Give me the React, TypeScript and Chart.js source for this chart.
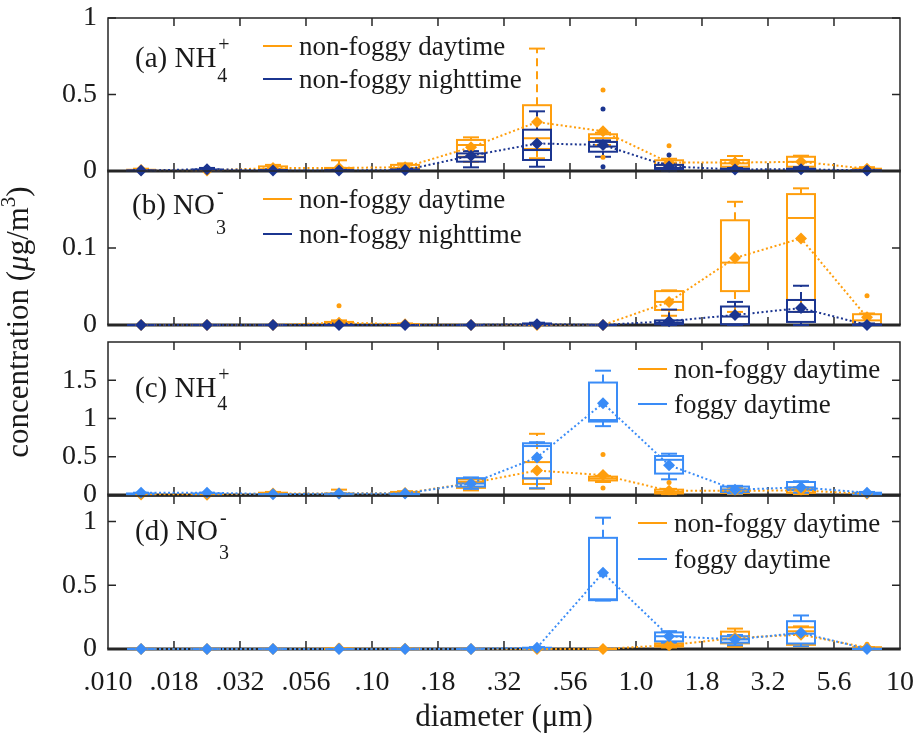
import React, { useEffect, useRef } from "react";
import { Chart, registerables } from "chart.js";

Chart.register(...registerables);

const W = 922;
const H = 737;
const FONT = '"Liberation Serif", "Times New Roman", serif';
const ORANGE = "#FF9E0D";
const NAVY = "#1B3590";
const BLUE = "#3A8CF7";
const INK = "#262626";

// particle size bins (geometric centres of the MOUDI stages, µm)
const DIAMETERS = [0.01334, 0.02371, 0.04217, 0.07499, 0.1334, 0.2371, 0.4217, 0.7499, 1.334, 2.371, 4.217, 7.499];
const X_TICKS = [0.01, 0.01778, 0.03162, 0.05623, 0.1, 0.1778, 0.3162, 0.5623, 1, 1.778, 3.162, 5.623, 10];
const X_TICK_LABELS = [".010", ".018", ".032", ".056", ".10", ".18", ".32", ".56", "1.0", "1.8", "3.2", "5.6", "10"];

const Y_TICKS_A = [0, 0.5, 1];
const Y_TICKS_B = [0, 0.1];
const Y_TICKS_C = [0, 0.5, 1, 1.5];
const Y_TICKS_D = [0, 0.5, 1];

// NH4+ non-foggy daytime
const NH4_ND_LO = [0, 0, 0, 0, 0, 0.06, 0.083, 0.17, 0.005, 0.01, 0.01, 0];
const NH4_ND_Q1 = [0.001, 0.001, 0.003, 0.003, 0.005, 0.093, 0.144, 0.19, 0.02, 0.028, 0.028, 0.003];
const NH4_ND_MED = [0.004, 0.002, 0.012, 0.01, 0.02, 0.17, 0.214, 0.215, 0.04, 0.05, 0.06, 0.008];
const NH4_ND_Q3 = [0.008, 0.004, 0.03, 0.02, 0.04, 0.203, 0.43, 0.24, 0.07, 0.072, 0.093, 0.015];
const NH4_ND_HI = [0.015, 0.006, 0.04, 0.07, 0.05, 0.22, 0.8, 0.25, 0.08, 0.098, 0.1, 0.025];
const NH4_ND_MEAN = [0.006, 0.003, 0.02, 0.02, 0.025, 0.155, 0.32, 0.26, 0.055, 0.055, 0.06, 0.015];
const NH4_ND_OUT = [[7, 0.53], [7, 0.09], [8, 0.165]];

// NH4+ non-foggy nighttime
const NH4_NN_LO = [0, 0, 0, 0, 0, 0.024, 0.028, 0.093, 0, 0, 0, 0];
const NH4_NN_Q1 = [0, 0.002, 0.001, 0.001, 0.001, 0.061, 0.072, 0.126, 0.01, 0.003, 0.003, 0];
const NH4_NN_MED = [0.002, 0.006, 0.003, 0.003, 0.004, 0.09, 0.137, 0.16, 0.02, 0.008, 0.008, 0.002];
const NH4_NN_Q3 = [0.004, 0.01, 0.006, 0.005, 0.01, 0.115, 0.27, 0.19, 0.04, 0.015, 0.015, 0.005];
const NH4_NN_HI = [0.006, 0.02, 0.01, 0.008, 0.015, 0.13, 0.39, 0.2, 0.05, 0.02, 0.025, 0.008];
const NH4_NN_MEAN = [0.003, 0.012, 0.004, 0.003, 0.006, 0.1, 0.18, 0.17, 0.03, 0.01, 0.012, 0.003];
const NH4_NN_OUT = [[7, 0.405], [7, 0.028], [8, 0.105]];

// NH4+ foggy daytime
const NH4_FD_LO = [0, 0, 0, 0, 0, 0.08, 0.088, 0.9, 0.205, 0.02, 0.03, 0];
const NH4_FD_Q1 = [0.005, 0.005, 0.002, 0.003, 0.003, 0.11, 0.218, 0.96, 0.28, 0.04, 0.065, 0.005];
const NH4_FD_MED = [0.01, 0.01, 0.005, 0.008, 0.008, 0.15, 0.64, 0.98, 0.46, 0.07, 0.1, 0.02];
const NH4_FD_Q3 = [0.02, 0.02, 0.01, 0.015, 0.015, 0.22, 0.676, 1.47, 0.51, 0.11, 0.17, 0.03];
const NH4_FD_HI = [0.03, 0.03, 0.015, 0.02, 0.025, 0.23, 0.69, 1.625, 0.54, 0.12, 0.18, 0.04];
const NH4_FD_MEAN = [0.03, 0.03, 0.01, 0.02, 0.02, 0.15, 0.49, 1.2, 0.39, 0.07, 0.1, 0.03];
const NH4_FD_OUT: number[][] = [];

// NO3- non-foggy daytime
const NO3_ND_LO = [0, 0, 0, 0, 0, 0, 0, 0, 0.012, 0.017, 0.017, 0];
const NO3_ND_Q1 = [0, 0, 0, 0, 0, 0, 0, 0, 0.0195, 0.044, 0.0325, 0.001];
const NO3_ND_MED = [0, 0, 0, 0.001, 0, 0, 0, 0, 0.03, 0.081, 0.139, 0.006];
const NO3_ND_Q3 = [0, 0, 0, 0.004, 0.001, 0, 0, 0, 0.044, 0.136, 0.17, 0.014];
const NO3_ND_HI = [0, 0, 0, 0.006, 0.002, 0, 0, 0, 0.045, 0.16, 0.1775, 0.015];
const NO3_ND_MEAN = [0, 0, 0, 0.003, 0.001, 0, 0, 0, 0.03, 0.087, 0.1125, 0.01];
const NO3_ND_OUT = [[3, 0.025], [11, 0.038]];

// NO3- non-foggy nighttime
const NO3_NN_LO = [0, 0, 0, 0, 0, 0, 0, 0, 0, 0, 0, 0];
const NO3_NN_Q1 = [0, 0, 0, 0, 0, 0, 0, 0, 0.001, 0.001, 0.004, 0];
const NO3_NN_MED = [0, 0, 0, 0, 0, 0, 0.001, 0, 0.003, 0.011, 0.017, 0];
const NO3_NN_Q3 = [0, 0, 0, 0.001, 0, 0, 0.002, 0, 0.006, 0.024, 0.0325, 0.001];
const NO3_NN_HI = [0, 0, 0, 0.002, 0, 0, 0.003, 0, 0.02, 0.03, 0.051, 0.002];
const NO3_NN_MEAN = [0, 0, 0, 0, 0, 0, 0.001, 0, 0.005, 0.013, 0.022, 0];
const NO3_NN_OUT: number[][] = [];

// NO3- foggy daytime
const NO3_FD_LO = [0, 0, 0, 0, 0, 0, 0, 0.38, 0.05, 0.03, 0.02, 0];
const NO3_FD_Q1 = [0, 0, 0, 0, 0, 0, 0, 0.383, 0.06, 0.05, 0.043, 0];
const NO3_FD_MED = [0, 0, 0, 0, 0, 0, 0.005, 0.39, 0.1, 0.075, 0.12, 0];
const NO3_FD_Q3 = [0, 0, 0, 0, 0, 0, 0.01, 0.872, 0.13, 0.1, 0.218, 0.002];
const NO3_FD_HI = [0, 0, 0, 0, 0, 0, 0.015, 1.03, 0.14, 0.11, 0.263, 0.004];
const NO3_FD_MEAN = [0, 0, 0, 0, 0, 0, 0.01, 0.598, 0.1, 0.075, 0.127, 0];
const NO3_FD_OUT: number[][] = [];

const LEGEND_DAY = "non-foggy daytime";
const LEGEND_NIGHT = "non-foggy nighttime";
const LEGEND_FOG = "foggy daytime";

const mk = (name: string, color: string, lo: number[], q1: number[], med: number[], q3: number[], hi: number[], mean: number[], out: number[][]) => ({ name, color, lo, q1, med, q3, hi, mean, out });

const PANELS = [
  {
    top: 18, bottom: 171, yMax: 1, yTicks: Y_TICKS_A,
    label: { main: "(a) NH", sub: "4", sup: "+", x: 135, y: 67, subDy: 15 },
    legend: { x: 263, ys: [46, 79] },
    series: [
      mk(LEGEND_DAY, ORANGE, NH4_ND_LO, NH4_ND_Q1, NH4_ND_MED, NH4_ND_Q3, NH4_ND_HI, NH4_ND_MEAN, NH4_ND_OUT),
      mk(LEGEND_NIGHT, NAVY, NH4_NN_LO, NH4_NN_Q1, NH4_NN_MED, NH4_NN_Q3, NH4_NN_HI, NH4_NN_MEAN, NH4_NN_OUT),
    ],
  },
  {
    top: 171, bottom: 325, yMax: 0.2, yTicks: Y_TICKS_B,
    label: { main: "(b) NO", sub: "3", sup: "-", x: 132, y: 214, subDy: 20 },
    legend: { x: 263, ys: [199, 234] },
    series: [
      mk(LEGEND_DAY, ORANGE, NO3_ND_LO, NO3_ND_Q1, NO3_ND_MED, NO3_ND_Q3, NO3_ND_HI, NO3_ND_MEAN, NO3_ND_OUT),
      mk(LEGEND_NIGHT, NAVY, NO3_NN_LO, NO3_NN_Q1, NO3_NN_MED, NO3_NN_Q3, NO3_NN_HI, NO3_NN_MEAN, NO3_NN_OUT),
    ],
  },
  {
    top: 342, bottom: 495, yMax: 2, yTicks: Y_TICKS_C,
    label: { main: "(c) NH", sub: "4", sup: "+", x: 135, y: 397, subDy: 13 },
    legend: { x: 638, ys: [369, 404] },
    series: [
      mk(LEGEND_DAY, ORANGE, NH4_ND_LO, NH4_ND_Q1, NH4_ND_MED, NH4_ND_Q3, NH4_ND_HI, NH4_ND_MEAN, NH4_ND_OUT),
      mk(LEGEND_FOG, BLUE, NH4_FD_LO, NH4_FD_Q1, NH4_FD_MED, NH4_FD_Q3, NH4_FD_HI, NH4_FD_MEAN, NH4_FD_OUT),
    ],
  },
  {
    top: 496, bottom: 649, yMax: 1.2, yTicks: Y_TICKS_D,
    label: { main: "(d) NO", sub: "3", sup: "-", x: 135, y: 540, subDy: 19 },
    legend: { x: 638, ys: [523, 559] },
    series: [
      mk(LEGEND_DAY, ORANGE, NO3_ND_LO, NO3_ND_Q1, NO3_ND_MED, NO3_ND_Q3, NO3_ND_HI, NO3_ND_MEAN, NO3_ND_OUT),
      mk(LEGEND_FOG, BLUE, NO3_FD_LO, NO3_FD_Q1, NO3_FD_MED, NO3_FD_Q3, NO3_FD_HI, NO3_FD_MEAN, NO3_FD_OUT),
    ],
  },
];

const BOX_W = 28;
const CAP = 8;
const TICK_LEN = 8;

function seg(ctx: any, x1: number, y1: number, x2: number, y2: number) {
  ctx.beginPath();
  ctx.moveTo(x1, y1);
  ctx.lineTo(x2, y2);
  ctx.stroke();
}

function drawBoxes(ctx: any, xs: any, ys: any, s: any) {
  ctx.save();
  ctx.strokeStyle = s.color;
  ctx.lineWidth = 2;
  for (let i = 0; i < DIAMETERS.length; i++) {
    const x = xs.getPixelForValue(DIAMETERS[i]);
    const yLo = ys.getPixelForValue(s.lo[i]);
    const yQ1 = ys.getPixelForValue(s.q1[i]);
    const yMed = ys.getPixelForValue(s.med[i]);
    const yQ3 = ys.getPixelForValue(s.q3[i]);
    const yHi = ys.getPixelForValue(s.hi[i]);
    ctx.setLineDash([8, 5]);
    if (yHi < yQ3) seg(ctx, x, yQ3, x, yHi);
    if (yLo > yQ1) seg(ctx, x, yQ1, x, yLo);
    ctx.setLineDash([]);
    seg(ctx, x - CAP, yHi, x + CAP, yHi);
    seg(ctx, x - CAP, yLo, x + CAP, yLo);
    ctx.strokeRect(x - BOX_W / 2, yQ3, BOX_W, yQ1 - yQ3);
    seg(ctx, x - BOX_W / 2, yMed, x + BOX_W / 2, yMed);
  }
  ctx.restore();
}

const decorPlugin = {
  id: "panelDecor",
  beforeDatasetsDraw(chart: any, _args: any, opts: any) {
    const p = opts.panel;
    if (!p) return;
    const ctx = chart.ctx;
    const { left, right, top, bottom } = chart.chartArea;
    const xs = chart.scales.x;
    const ys = chart.scales.y;
    ctx.save();
    ctx.strokeStyle = INK;
    ctx.lineWidth = 1.5;
    ctx.beginPath();
    ctx.moveTo(left, bottom);
    ctx.lineTo(left, top);
    ctx.lineTo(right, top);
    ctx.lineTo(right, bottom);
    ctx.stroke();
    X_TICKS.forEach((v) => {
      const x = xs.getPixelForValue(v);
      if (x <= left + 1 || x >= right - 1) return;
      seg(ctx, x, bottom, x, bottom - TICK_LEN);
      seg(ctx, x, top, x, top + TICK_LEN);
    });
    p.yTicks.forEach((v: number) => {
      const y = ys.getPixelForValue(v);
      seg(ctx, left, y, left + TICK_LEN, y);
      seg(ctx, right, y, right - TICK_LEN, y);
    });
    ctx.lineWidth = 3;
    seg(ctx, left - 0.75, bottom, right + 0.75, bottom);
    ctx.restore();
    p.series.forEach((s: any) => drawBoxes(ctx, xs, ys, s));
  },
  afterDraw(chart: any, _args: any, opts: any) {
    const p = opts.panel;
    if (!p) return;
    const ctx = chart.ctx;
    ctx.save();
    ctx.fillStyle = "#1a1a1a";
    ctx.textAlign = "left";
    ctx.textBaseline = "alphabetic";
    // panel label
    const L = p.label;
    ctx.font = `29px ${FONT}`;
    ctx.fillText(L.main, L.x, L.y);
    const lx = L.x + ctx.measureText(L.main).width + 1;
    ctx.font = `20px ${FONT}`;
    ctx.fillText(L.sub, lx, L.y + L.subDy);
    ctx.fillText(L.sup, lx + 1, L.y - 16);
    // legend
    p.series.forEach((s: any, k: number) => {
      const y = p.legend.ys[k];
      ctx.strokeStyle = s.color;
      ctx.lineWidth = 2;
      seg(ctx, p.legend.x, y, p.legend.x + 29, y);
      ctx.font = `27px ${FONT}`;
      ctx.fillText(s.name, p.legend.x + 36, y + 9);
    });
    // shared y-axis title
    if (opts.yTitle) {
      ctx.translate(19, 322);
      ctx.rotate(-Math.PI / 2);
      const parts = [
        { t: "concentration (", f: `31px ${FONT}`, dy: 0 },
        { t: "\u03bc", f: `italic 31px ${FONT}`, dy: 0 },
        { t: "g/m", f: `31px ${FONT}`, dy: 0 },
        { t: "3", f: `21px ${FONT}`, dy: -13 },
        { t: ")", f: `31px ${FONT}`, dy: 0 },
      ];
      let total = 0;
      parts.forEach((q) => { ctx.font = q.f; total += ctx.measureText(q.t).width; });
      let x = -total / 2;
      parts.forEach((q) => {
        ctx.font = q.f;
        ctx.fillText(q.t, x, 9 + q.dy);
        x += ctx.measureText(q.t).width;
      });
    }
    ctx.restore();
  },
};

function buildConfig(p: any, idx: number) {
  const isLast = idx === PANELS.length - 1;
  const datasets: any[] = [];
  p.series.forEach((s: any, k: number) => {
    const order = (p.series.length - 1 - k) * 2;
    datasets.push({
      label: s.name,
      data: DIAMETERS.map((d, i) => ({ x: d, y: s.mean[i] })),
      borderColor: s.color,
      backgroundColor: s.color,
      borderWidth: 2,
      borderDash: [2, 2.5],
      pointStyle: "rectRot",
      pointRadius: 6,
      pointBorderWidth: 0,
      pointBackgroundColor: s.color,
      tension: 0,
      clip: false,
      order,
    });
    datasets.push({
      label: s.name + " outliers",
      data: s.out.map((o: number[]) => ({ x: DIAMETERS[o[0]], y: o[1] })),
      showLine: false,
      pointStyle: "circle",
      pointRadius: 2.5,
      pointBorderWidth: 0,
      pointBackgroundColor: s.color,
      borderColor: s.color,
      clip: false,
      order: order + 1,
    });
  });
  return {
    type: "line",
    data: { datasets },
    plugins: [decorPlugin],
    options: {
      animation: false,
      responsive: false,
      events: [],
      layout: { padding: { top: p.top, bottom: isLast ? 0 : H - p.bottom, left: 0, right: W - 900 } },
      plugins: {
        legend: { display: false },
        tooltip: { enabled: false },
        panelDecor: { panel: p, yTitle: idx === 0 },
      },
      scales: {
        x: {
          type: "logarithmic",
          min: 0.01,
          max: 10,
          display: isLast,
          afterBuildTicks: (s: any) => { s.ticks = X_TICKS.map((v) => ({ value: v })); },
          afterFit: (s: any) => {
            if (!isLast) return;
            s.height = H - p.bottom;
            s.paddingLeft = 0;
            s.paddingRight = 0;
          },
          grid: { display: false, drawTicks: false },
          border: { display: false },
          ticks: {
            autoSkip: false,
            maxRotation: 0,
            minRotation: 0,
            padding: 17,
            color: "#1a1a1a",
            font: { family: FONT, size: 28 },
            callback: (_v: any, i: number) => X_TICK_LABELS[i],
          },
          title: {
            display: true,
            text: "diameter (\u03bcm)",
            color: "#1a1a1a",
            font: { family: FONT, size: 31 },
            padding: { top: 0, bottom: 1 },
          },
        },
        y: {
          type: "linear",
          min: 0,
          max: p.yMax,
          afterBuildTicks: (s: any) => { s.ticks = p.yTicks.map((v: number) => ({ value: v })); },
          afterFit: (s: any) => { s.width = 108; s.paddingTop = 0; s.paddingBottom = 0; },
          grid: { display: false, drawTicks: false },
          border: { display: false },
          ticks: {
            padding: 11,
            color: "#1a1a1a",
            font: { family: FONT, size: 28 },
            callback: (v: any) => String(v),
          },
        },
      },
    },
  };
}

function Panel({ p, idx }: { p: any; idx: number }) {
  const ref = useRef<HTMLCanvasElement | null>(null);
  useEffect(() => {
    if (!ref.current) return;
    const chart = new Chart(ref.current, buildConfig(p, idx) as any);
    return () => chart.destroy();
  }, [p, idx]);
  return (
    <canvas
      ref={ref}
      width={W}
      height={H}
      style={{ position: "absolute", left: 0, top: 0, width: W, height: H }}
    />
  );
}

export default function App() {
  return (
    <div style={{ position: "absolute", left: 0, top: 0, width: W, height: H, background: "#fff", overflow: "hidden" }}>
      {PANELS.map((p, i) => (
        <Panel key={i} p={p} idx={i} />
      ))}
    </div>
  );
}
